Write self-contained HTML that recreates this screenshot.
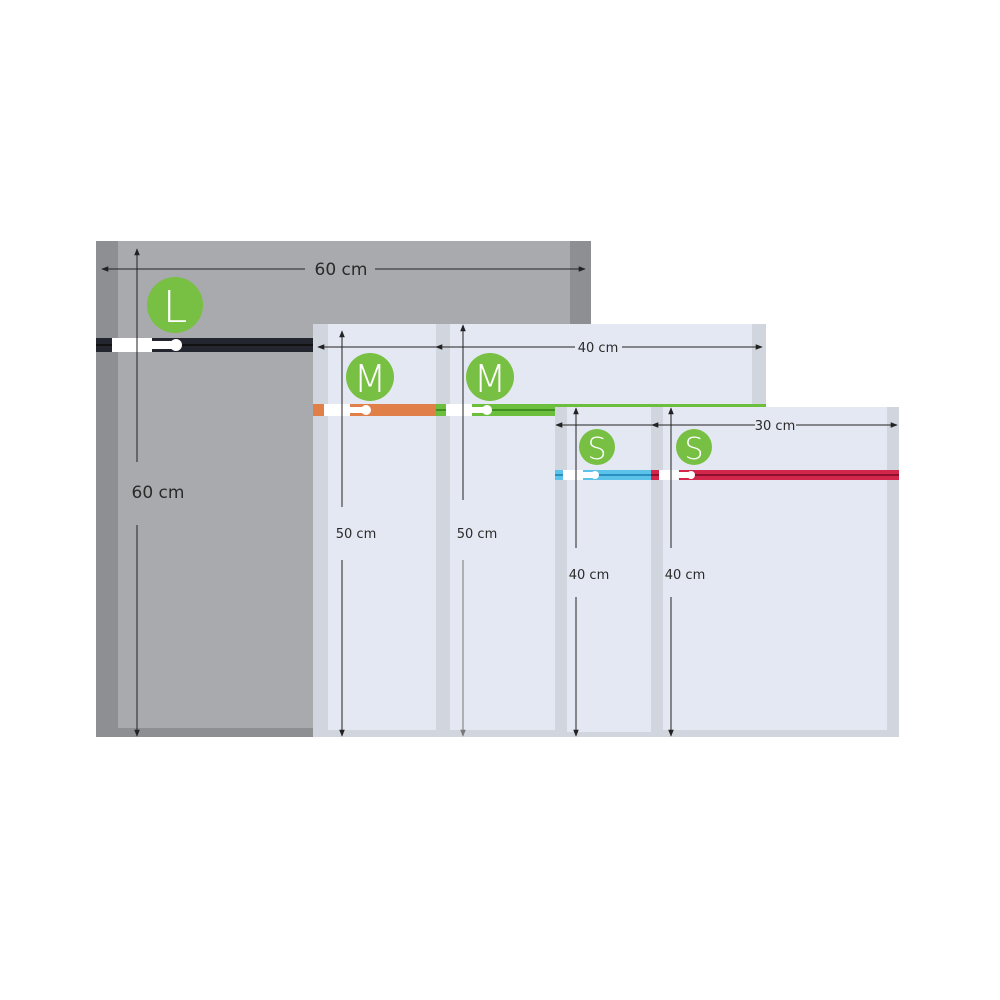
<!DOCTYPE html>
<html><head><style>html,body{margin:0;padding:0;background:#fff}svg{display:block}text{font-family:"DejaVu Sans","Liberation Sans",sans-serif;fill:#2a2a2a}</style></head>
<body>
<svg width="1000" height="1000" viewBox="0 0 1000 1000" xmlns="http://www.w3.org/2000/svg">
<defs>
<marker id="a" viewBox="0 0 10 10" refX="9" refY="5" markerWidth="7" markerHeight="7" orient="auto-start-reverse"><path d="M0,1L10,5L0,9z" fill="#222"/></marker>
<marker id="g" viewBox="0 0 10 10" refX="9" refY="5" markerWidth="7" markerHeight="7" orient="auto-start-reverse"><path d="M0,1L10,5L0,9z" fill="#777"/></marker>
</defs>
<!-- L bag -->
<rect x="96" y="241" width="495" height="496" fill="#8e8f93"/>
<rect x="118" y="241" width="452" height="487" fill="#a9aaae"/>
<!-- L zipper -->
<rect x="96" y="338" width="218" height="14" fill="#23262e"/>
<rect x="96" y="344" width="218" height="2" fill="#111"/>
<rect x="112" y="338" width="40" height="14" fill="#fff"/>
<rect x="152" y="341" width="20" height="8" fill="#fff"/><circle cx="176" cy="345" r="6" fill="#fff"/>
<circle cx="175" cy="305" r="28" fill="#77c043"/>
<text x="175" y="322" font-size="44" text-anchor="middle" style="fill:#fff" font-weight="300">L</text>
<!-- L dims -->
<line x1="102" y1="269" x2="305" y2="269" stroke="#222" stroke-width="1" marker-start="url(#a)"/>
<line x1="375" y1="269" x2="585" y2="269" stroke="#222" stroke-width="1" marker-end="url(#a)"/>
<text x="341" y="275" font-size="17" text-anchor="middle">60 cm</text>
<line x1="137" y1="462" x2="137" y2="249" stroke="#222" stroke-width="1" marker-end="url(#a)"/>
<line x1="137" y1="525" x2="137" y2="736" stroke="#222" stroke-width="1" marker-end="url(#a)"/>
<text x="158" y="498" font-size="17" text-anchor="middle">60 cm</text>
<!-- M1 -->
<rect x="313" y="324" width="137" height="413" fill="#d1d5de"/>
<rect x="328" y="324" width="108" height="406" fill="#e4e8f2"/>
<!-- M2 -->
<rect x="436" y="324" width="330" height="413" fill="#d1d5de"/>
<rect x="450" y="324" width="302" height="406" fill="#e4e8f2"/>
<!-- M zippers -->
<rect x="313" y="404" width="123" height="12" fill="#e07f47"/>
<rect x="324" y="404" width="26" height="12" fill="#fff"/>
<rect x="350" y="407" width="12" height="6" fill="#fff"/><circle cx="366" cy="410" r="5" fill="#fff"/>
<rect x="436" y="404" width="120" height="12" fill="#6cbf3c"/>
<rect x="436" y="409" width="120" height="2" fill="#3f8f22"/>
<rect x="436" y="404" width="330" height="3" fill="#6cbf3c"/>
<rect x="446" y="404" width="26" height="12" fill="#fff"/>
<rect x="472" y="407" width="12" height="6" fill="#fff"/><circle cx="487" cy="410" r="5" fill="#fff"/>
<circle cx="370" cy="377" r="24" fill="#77c043"/>
<text x="370" y="392" font-size="38" text-anchor="middle" style="fill:#fff" font-weight="300">M</text>
<circle cx="490" cy="377" r="24" fill="#77c043"/>
<text x="490" y="392" font-size="38" text-anchor="middle" style="fill:#fff" font-weight="300">M</text>
<!-- M dims -->
<line x1="318" y1="347" x2="436" y2="347" stroke="#222" marker-start="url(#a)"/>
<line x1="436" y1="347" x2="575" y2="347" stroke="#222" marker-start="url(#a)"/>
<line x1="622" y1="347" x2="762" y2="347" stroke="#222" marker-end="url(#a)"/>
<text x="598" y="352" font-size="13" text-anchor="middle">40 cm</text>
<line x1="342" y1="507" x2="342" y2="331" stroke="#222" marker-end="url(#a)"/>
<line x1="342" y1="560" x2="342" y2="736" stroke="#222" marker-end="url(#a)"/>
<text x="356" y="538" font-size="13" text-anchor="middle">50 cm</text>
<line x1="463" y1="500" x2="463" y2="325" stroke="#222" marker-end="url(#a)"/>
<line x1="463" y1="560" x2="463" y2="736" stroke="#777" marker-end="url(#g)"/>
<text x="477" y="538" font-size="13" text-anchor="middle">50 cm</text>
<!-- S1 -->
<rect x="555" y="407" width="110" height="330" fill="#d1d5de"/>
<rect x="567" y="407" width="84" height="325" fill="#e4e8f2"/>
<!-- S2 -->
<rect x="651" y="407" width="248" height="330" fill="#d1d5de"/>
<rect x="663" y="407" width="224" height="323" fill="#e4e8f2"/>
<!-- S zippers -->
<rect x="555" y="470" width="96" height="10" fill="#5bc3ea"/>
<rect x="555" y="474" width="96" height="2" fill="#2a8fc0"/>
<rect x="563" y="470" width="20" height="10" fill="#fff"/>
<rect x="583" y="472" width="9" height="6" fill="#fff"/><circle cx="595" cy="475" r="4" fill="#fff"/>
<rect x="651" y="470" width="248" height="10" fill="#d2264a"/>
<rect x="651" y="474" width="248" height="2" fill="#8e1030"/>
<rect x="659" y="470" width="20" height="10" fill="#fff"/>
<rect x="679" y="472" width="9" height="6" fill="#fff"/><circle cx="691" cy="475" r="4" fill="#fff"/>
<circle cx="597" cy="447" r="18" fill="#77c043"/>
<text x="597" y="459" font-size="30" text-anchor="middle" style="fill:#fff" font-weight="300">S</text>
<circle cx="694" cy="447" r="18" fill="#77c043"/>
<text x="694" y="459" font-size="30" text-anchor="middle" style="fill:#fff" font-weight="300">S</text>
<!-- S dims -->
<line x1="556" y1="425" x2="652" y2="425" stroke="#222" marker-start="url(#a)"/>
<line x1="652" y1="425" x2="755" y2="425" stroke="#222" marker-start="url(#a)"/>
<line x1="796" y1="425" x2="897" y2="425" stroke="#222" marker-end="url(#a)"/>
<text x="775" y="430" font-size="13" text-anchor="middle">30 cm</text>
<line x1="576" y1="548" x2="576" y2="408" stroke="#222" marker-end="url(#a)"/>
<line x1="576" y1="597" x2="576" y2="736" stroke="#222" marker-end="url(#a)"/>
<text x="589" y="579" font-size="13" text-anchor="middle">40 cm</text>
<line x1="671" y1="548" x2="671" y2="408" stroke="#222" marker-end="url(#a)"/>
<line x1="671" y1="597" x2="671" y2="736" stroke="#222" marker-end="url(#a)"/>
<text x="685" y="579" font-size="13" text-anchor="middle">40 cm</text>
</svg>
</body></html>
